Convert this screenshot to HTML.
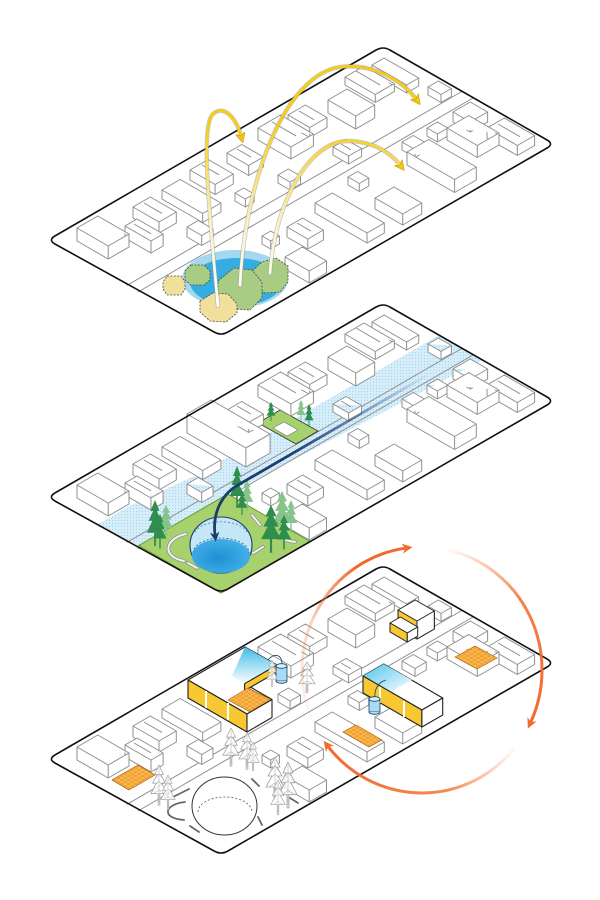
<!DOCTYPE html>
<html><head><meta charset="utf-8"><style>html,body{margin:0;padding:0;background:#fff;width:600px;height:900px;overflow:hidden}svg{display:block}</style></head><body>
<svg xmlns="http://www.w3.org/2000/svg" width="600" height="900" viewBox="0 0 600 900">
<defs>
<path id="pf" d="M54.9,236 L376.1,50 Q383,46 389.9,50 L547.1,140 Q554,144 547.1,148 L227.9,332 Q221,336 214.1,332 L54.9,244 Q48,240 54.9,236 Z"/>
<g id="st" stroke="#8f8f8f" stroke-width="1"><line x1="126.8" y1="285.5" x2="461.8" y2="91.5"/><line x1="138" y1="292" x2="473" y2="98"/></g>
<g id="bc" fill="#fff" stroke="#8f8f8f" stroke-width="1" stroke-linejoin="round">
<path d="M372,65 l12.1,-7 l34.6,20 v8 l-12.1,7 l-34.6,-20 z l34.6,20 l12.1,-7 m-12.1,7 v8"/>
<path d="M345,77 l19,-11 l30.3,17.5 v8 l-19,11 l-30.3,-17.5 z l30.3,17.5 l19,-11 m-19,11 v8 M356,71 l24,13.9"/>
<path d="M428,87 l10.4,-6 l13,7.5 v8 l-10.4,6 l-13,-7.5 z l13,7.5 l10.4,-6 m-10.4,6 v8"/>
<path d="M328,100 l19,-11 l27.7,16 v13 l-19,11 l-27.7,-16 z l27.7,16 l19,-11 m-19,11 v13"/>
<path d="M453,112 l17.3,-10 l17.3,10 v10 l-17.3,10 l-17.3,-10 z l17.3,10 l17.3,-10 m-17.3,10 v10"/>
<path d="M288,115 l17.3,-10 l21.7,12.5 v10 l-17.3,10 l-21.7,-12.5 z l21.7,12.5 l17.3,-10 m-17.3,10 v10 M299,111 l15,8.7"/>
<path d="M427,128 l10.4,-6 l10.4,6 v8 l-10.4,6 l-10.4,-6 z l10.4,6 l10.4,-6 m-10.4,6 v8"/>
<path d="M487,128 l17.3,-10 l30.3,17.5 v10 l-17.3,10 l-30.3,-17.5 z l30.3,17.5 l17.3,-10 m-17.3,10 v10 M498,124 l22,12.7"/>
<path d="M402,142 l11.3,-6.5 l13,7.5 v8 l-11.3,6.5 l-13,-7.5 z l13,7.5 l11.3,-6.5 m-11.3,6.5 v8"/>
<path d="M447,128 l21.7,-12.5 l30.3,17.5 v12 l-21.7,12.5 l-30.3,-17.5 z l30.3,17.5 l21.7,-12.5 m-21.7,12.5 v12"/>
<path d="M258,128 l22.5,-13 l32.9,19 v12 l-22.5,13 l-32.9,-19 z l32.9,19 l22.5,-13 m-22.5,13 v12 M272,122 l24,13.9"/>
<path d="M333,147 l13,-7.5 l15.6,9 v8 l-13,7.5 l-15.6,-9 z l15.6,9 l13,-7.5 m-13,7.5 v8 M341,144 l10,5.8"/>
<path d="M348,177 l9.5,-5.5 l11.3,6.5 v8 l-9.5,5.5 l-11.3,-6.5 z l11.3,6.5 l9.5,-5.5 m-9.5,5.5 v8"/>
<path d="M162,190 l18.2,-10.5 l40.7,23.5 v9 l-18.2,10.5 l-40.7,-23.5 z l40.7,23.5 l18.2,-10.5 m-18.2,10.5 v9"/>
<path d="M375,198 l19,-11 l27.7,16 v11 l-19,11 l-27.7,-16 z l27.7,16 l19,-11 m-19,11 v11"/>
<path d="M133,207 l17.3,-10 l26,15 v11 l-17.3,10 l-26,-15 z l26,15 l17.3,-10 m-17.3,10 v11 M144,203 l18,10.4"/>
<path d="M315,203 l17.3,-10 l52,30 v10 l-17.3,10 l-52,-30 z l52,30 l17.3,-10 m-17.3,10 v10"/>
<path d="M187,227 l11.3,-6.5 l14.7,8.5 v10 l-11.3,6.5 l-14.7,-8.5 z l14.7,8.5 l11.3,-6.5 m-11.3,6.5 v10"/>
<path d="M262,236 l8.7,-5 l8.7,5 v8 l-8.7,5 l-8.7,-5 z l8.7,5 l8.7,-5 m-8.7,5 v8"/>
<path d="M287,227 l15.6,-9 l20.8,12 v10 l-15.6,9 l-20.8,-12 z l20.8,12 l15.6,-9 m-15.6,9 v10 M297,223 l14,8.1"/>
<path d="M125,226 l12.1,-7 l26,15 v12 l-12.1,7 l-26,-15 z l26,15 l12.1,-7 m-12.1,7 v12 M134,224 l17,9.8"/>
<path d="M77,228 l20.8,-12 l31.2,18 v13 l-20.8,12 l-31.2,-18 z l31.2,18 l20.8,-12 m-20.8,12 v13"/>
<path d="M285,257 l17.3,-10 l24.2,14 v12 l-17.3,10 l-24.2,-14 z l24.2,14 l17.3,-10 m-17.3,10 v12"/>
</g>
<path id="bB6" d="M190,170 l18.2,-10.5 l25.1,14.5 v10 l-18.2,10.5 l-25.1,-14.5 z l25.1,14.5 l18.2,-10.5 m-18.2,10.5 v10 M202,165 l17,9.8"/>
<path id="bB7" d="M227,153 l14.7,-8.5 l21.7,12.5 v10 l-14.7,8.5 l-21.7,-12.5 z l21.7,12.5 l14.7,-8.5 m-14.7,8.5 v10 M237,149 l14,8.1"/>
<path id="bB8" d="M235,193 l8.7,-5 l10.4,6 v8 l-8.7,5 l-10.4,-6 z l10.4,6 l8.7,-5 m-8.7,5 v8"/>
<path id="bS4" d="M278,175 l10.4,-6 l12.1,7 v8 l-10.4,6 l-12.1,-7 z l12.1,7 l10.4,-6 m-10.4,6 v8"/>
<path id="bS10" d="M407,152 l21.7,-12.5 l47.6,27.5 v13 l-21.7,12.5 l-47.6,-27.5 z l47.6,27.5 l21.7,-12.5 m-21.7,12.5 v13"/>
<path id="bM1" d="M187,157 l24.2,-14 l58.9,34 v19 l-24.2,14 l-58.9,-34 z l58.9,34 l24.2,-14 m-24.2,14 v19"/>

<linearGradient id="gY" gradientUnits="userSpaceOnUse" x1="0" y1="300" x2="0" y2="125"><stop offset="0" stop-color="#ffffff"/><stop offset=".45" stop-color="#fbf1c0"/><stop offset="1" stop-color="#f6cd12"/></linearGradient>
<linearGradient id="gN" gradientUnits="userSpaceOnUse" x1="431" y1="373" x2="290" y2="455"><stop offset="0" stop-color="#1c3d6e" stop-opacity="0"/><stop offset="1" stop-color="#1c3d6e" stop-opacity="1"/></linearGradient>
<linearGradient id="gOA" gradientUnits="userSpaceOnUse" x1="313" y1="722" x2="405" y2="548"><stop offset="0" stop-color="#f26b2c" stop-opacity="0.04"/><stop offset=".45" stop-color="#f26b2c" stop-opacity=".3"/><stop offset=".8" stop-color="#f26b2c" stop-opacity="1"/><stop offset="1" stop-color="#f26b2c"/></linearGradient>
<linearGradient id="gOB" gradientUnits="userSpaceOnUse" x1="449" y1="550" x2="531" y2="722"><stop offset="0" stop-color="#f26b2c" stop-opacity="0.04"/><stop offset=".4" stop-color="#f26b2c" stop-opacity=".85"/><stop offset="1" stop-color="#f26b2c"/></linearGradient>
<linearGradient id="gOC" gradientUnits="userSpaceOnUse" x1="514" y1="749" x2="328" y2="747"><stop offset="0" stop-color="#f26b2c" stop-opacity="0.04"/><stop offset=".35" stop-color="#f26b2c" stop-opacity=".8"/><stop offset="1" stop-color="#f26b2c"/></linearGradient>
<linearGradient id="gRoof" x1="0" y1="0" x2="0" y2="1"><stop offset="0" stop-color="#3fbde9"/><stop offset="1" stop-color="#ffffff"/></linearGradient>
<linearGradient id="gRoof2" x1="0" y1="0" x2="1" y2="1"><stop offset="0" stop-color="#4cc3ec"/><stop offset="1" stop-color="#ffffff"/></linearGradient>
<radialGradient id="gW" cx=".45" cy=".55" r=".6"><stop offset="0" stop-color="#1f8fd6"/><stop offset="1" stop-color="#45b2e8"/></radialGradient>
<pattern id="pD" width="3" height="3" patternUnits="userSpaceOnUse"><rect width="3" height="3" fill="#d7eefa"/><circle cx="1.5" cy="1.5" r=".6" fill="#a3d4f0"/></pattern>
<pattern id="pS" width="4" height="4" patternUnits="userSpaceOnUse" patternTransform="matrix(.866,-.5,.866,.5,0,0)"><rect width="4" height="4" fill="#f2a12a"/><path d="M0,0 H4 M0,0 V4" stroke="#fde3a8" stroke-width=".7"/></pattern>
<marker id="my" viewBox="0 0 10 10" refX="3" refY="5" markerWidth="3.6" markerHeight="3.6" orient="auto"><path d="M0,0 L10,5 L0,10 L3,5 Z" fill="#f5c518" stroke="#c99a00" stroke-width=".6"/></marker>
<marker id="mo" viewBox="0 0 10 10" refX="3" refY="5" markerWidth="3.4" markerHeight="3.4" orient="auto"><path d="M0,0 L10,5 L0,10 L3,5 Z" fill="#f26b2c"/></marker>
<marker id="mn" viewBox="0 0 10 10" refX="3" refY="5" markerWidth="3.4" markerHeight="3.4" orient="auto"><path d="M0,0 L10,5 L0,10 L3,5 Z" fill="#1c3d6e"/></marker>
<symbol id="tr" viewBox="0 0 20 44" preserveAspectRatio="none"><path d="M10,0 L5,10 L8,10 L3,19 L7,19 L1,30 L9,30 L9,42 L11,42 L11,30 L19,30 L13,19 L17,19 L12,10 L15,10 Z"/></symbol>
<symbol id="gt" viewBox="0 0 20 44" preserveAspectRatio="none"><path d="M10,0 L5,10 L8,10 L3,19 L7,19 L1,30 L9,30 L9,42 L11,42 L11,30 L19,30 L13,19 L17,19 L12,10 L15,10 Z" fill="#fff" fill-opacity=".75" stroke="#a0a0a0" stroke-width=".8"/><path d="M10,3 V40 M10,9 L7,13 M10,9 L13,13 M10,17 L5,22 M10,17 L15,22 M10,26 L4,30 M10,26 L16,30" stroke="#b0b0b0" stroke-width=".6" fill="none"/></symbol>
</defs>
<rect width="600" height="900" fill="#fff"/>

<!-- ============ TOP ============ -->
<use href="#pf" fill="#fff"/>
<use href="#st"/>
<use href="#bc"/>
<g fill="#fff" stroke="#8f8f8f" stroke-width="1" stroke-linejoin="round">
<use href="#bB7"/><use href="#bS10"/><use href="#bS4"/><use href="#bB6"/><use href="#bB8"/>
</g>
<ellipse cx="235" cy="279" rx="53" ry="29" fill="#a3d8f0"/>
<ellipse cx="236" cy="282" rx="46" ry="24" fill="#35ade2"/>
<g stroke="#4a4a3a" stroke-width=".8" stroke-dasharray="2,1.4" stroke-linejoin="round">
<polygon points="191,265 204,265 210,271 210,280 204,285 191,285 185,280 185,271" fill="#a9cc85"/>
<polygon points="167,276 181,276 185,282 185,289 181,295 167,295 163,289 163,282" fill="#f1df9c"/>
<polygon points="250,273 262,262 276,258 288,266 288,282 280,292 265,293 252,285" fill="#a9cc85"/>
<polygon points="218,281 234,268 252,270 262,282 262,298 250,310 234,309 218,296" fill="#a9cc85"/>
<polygon points="200,301 213,293 228,294 237,304 237,313 226,322 210,321 200,312" fill="#f1df9c"/>
</g>
<use href="#pf" fill="none" stroke="#111" stroke-width="1.6"/>
<g fill="none" stroke-linecap="round">
<path d="M218,306 C210,220 200,125 213,114 C224,104 236,118 241,136" stroke="#9a9a9a" stroke-opacity=".55" stroke-width="4.4"/>
<path d="M240,285 C245,180 285,75 340,67 C372,63 402,80 416,99" stroke="#9a9a9a" stroke-opacity=".55" stroke-width="4.4"/>
<path d="M270,273 C275,200 310,142 347,141 C372,141 390,152 400,165" stroke="#9a9a9a" stroke-opacity=".55" stroke-width="4.4"/>
<path d="M218,306 C210,220 200,125 213,114 C224,104 236,118 241,136" stroke="url(#gY)" stroke-width="2.8" marker-end="url(#my)"/>
<path d="M240,285 C245,180 285,75 340,67 C372,63 402,80 416,99" stroke="url(#gY)" stroke-width="2.8" marker-end="url(#my)"/>
<path d="M270,273 C275,200 310,142 347,141 C372,141 390,152 400,165" stroke="url(#gY)" stroke-width="2.8" marker-end="url(#my)"/>
</g>

<!-- ============ MIDDLE ============ -->
<use href="#pf" y="257" fill="#fff"/>
<polygon points="96.5,525 138.7,545.5 227.9,494 481.8,360.5 438.5,335.5 198.7,474 131.1,505" fill="url(#pD)"/>
<use href="#st" y="257"/>
<polygon points="138.7,545.5 227.9,494 310.2,541.5 221,593" fill="#a6d16c" stroke="#5f9a2e" stroke-width="1"/>
<polygon points="258,423 280,410 318,431 296,444" fill="#a6d16c" stroke="#333" stroke-width=".8"/>
<polygon points="273,428 284,422 298,430 287,436" fill="#fff" stroke="#777" stroke-width=".6"/>
<use href="#bc" y="257"/>
<g fill="#fff" stroke="#8f8f8f" stroke-width="1" stroke-linejoin="round" transform="translate(0,257)">
<use href="#bB7"/><use href="#bS10"/><use href="#bM1"/>
</g>
<g fill="none" stroke-linecap="round">
<path d="M186,534 C166,538 160,556 184,561" stroke="#8a8a8a" stroke-width="3.4"/>
<path d="M186,534 C166,538 160,556 184,561" stroke="#f2f2f2" stroke-width="2"/>
<path d="M188,563 L197,568 M252,515 L260,525 M253,553 L263,547 M285,540 L295,542" stroke="#8a8a8a" stroke-width="3.4"/>
<path d="M188,563 L197,568 M252,515 L260,525 M253,553 L263,547 M285,540 L295,542" stroke="#f2f2f2" stroke-width="2"/>
</g>
<ellipse cx="221" cy="545" rx="31" ry="28" fill="#c4e6f7" stroke="#1d3f66" stroke-width="1.1"/>
<ellipse cx="221" cy="556" rx="29" ry="17" fill="url(#gW)"/>
<path d="M195,532 A27,14 0 0 1 247,532" fill="none" stroke="#4a7fa8" stroke-width=".8" stroke-dasharray="2,2"/>
<path d="M193,553 A28,15 0 0 1 249,553" fill="none" stroke="#1d5f96" stroke-width=".8" stroke-dasharray="2,2"/>
<g>
<use href="#tr" x="158" y="505" width="16" height="34" fill="#86c48c"/>
<use href="#tr" x="146" y="500" width="18" height="48" fill="#2f8d4e"/>
<use href="#tr" x="153" y="514" width="14" height="36" fill="#2f8d4e"/>
<use href="#tr" x="240" y="480" width="14" height="32" fill="#86c48c"/>
<use href="#tr" x="229" y="466" width="16" height="44" fill="#2f8d4e"/>
<use href="#tr" x="236" y="490" width="12" height="26" fill="#2f8d4e"/>
<use href="#tr" x="272" y="491" width="20" height="46" fill="#86c48c"/>
<use href="#tr" x="284" y="500" width="14" height="34" fill="#86c48c"/>
<use href="#tr" x="260" y="505" width="22" height="50" fill="#2f8d4e"/>
<use href="#tr" x="276" y="515" width="16" height="36" fill="#2f8d4e"/>
<use href="#tr" x="296" y="400" width="10" height="22" fill="#86c48c"/>
<use href="#tr" x="266" y="402" width="10" height="20" fill="#2f8d4e"/>
<use href="#tr" x="304" y="404" width="10" height="24" fill="#2f8d4e"/>
</g>
<path d="M431,373 L238,485 C224,493 212,510 215,535" fill="none" stroke="url(#gN)" stroke-width="2.8" marker-end="url(#mn)"/>
<use href="#pf" y="257" fill="none" stroke="#111" stroke-width="1.6"/>

<!-- ============ BOTTOM ============ -->
<use href="#pf" y="519" fill="#fff"/>
<use href="#st" y="519"/>
<use href="#bc" y="519"/>
<g fill="#fff" stroke="#8f8f8f" stroke-width="1" stroke-linejoin="round" transform="translate(0,519)">
<use href="#bS4"/>
</g>
<g stroke="#222" stroke-width="1.1" stroke-linejoin="round">
<polygon points="188,680 245,647 277,665 244.6,683.7 272,699.5 247,714" fill="#fff"/>
<polygon points="245,647 277,665 244.6,683.7 232,676" fill="url(#gRoof)" stroke="none"/>
<polygon points="244.6,683.7 277,665 277,672 244.6,690.7" fill="#f7c832"/>
<polygon points="228,700 248,688 272,700 252,713" fill="url(#pS)" stroke="#a85a10" stroke-width=".7"/>
<polygon points="188,680 247,714 247,732 188,698" fill="#f7c832"/>
<polygon points="247,714 272,699.5 272,717.5 247,732" fill="#fff"/>
</g>
<g stroke="#fff" stroke-width="2"><line x1="206" y1="691" x2="206" y2="708"/><line x1="228" y1="703" x2="228" y2="720"/></g>
<g stroke="#1d3f66" stroke-width=".8"><path d="M268,660 C275,652 282,655 282,664" fill="none"/><rect x="276" y="666" width="11" height="15" fill="#a8dcf3"/><ellipse cx="281.5" cy="666" rx="5.5" ry="2.3" fill="#d6f0fb"/><path d="M276,681 A5.5,2.3 0 0 0 287,681" fill="#a8dcf3"/></g>
<g stroke="#222" stroke-width="1.1" stroke-linejoin="round">
<polygon points="363,676 383.8,664 442.7,698 421.9,710" fill="#fff"/>
<polygon points="363,676 383.8,664 412,680 390,692" fill="url(#gRoof2)" stroke="none"/>
<polygon points="363,676 421.9,710 421.9,727 363,693" fill="#f7c832"/>
<polygon points="421.9,710 442.7,698 442.7,715 421.9,727" fill="#fff"/>
</g>
<g stroke="#fff" stroke-width="2"><line x1="380" y1="687" x2="380" y2="703"/><line x1="404" y1="701" x2="404" y2="717"/></g>
<g stroke="#1d3f66" stroke-width=".8"><path d="M386,680 C378,682 374,690 375,698" fill="none"/><rect x="369" y="699" width="11" height="13" fill="#a8dcf3"/><ellipse cx="374.5" cy="699" rx="5.5" ry="2.3" fill="#d6f0fb"/><path d="M369,712 A5.5,2.3 0 0 0 380,712" fill="#a8dcf3"/></g>
<g stroke="#222" stroke-width="1" stroke-linejoin="round">
<path d="M398,610 l17.3,-10 l19,11 v18 l-17.3,10 l-19,-11 z" fill="#fff"/>
<polygon points="398,610 417,621 417,639 398,628" fill="#f7c832"/>
<polygon points="417,621 434.3,611 434.3,629 417,639" fill="#fff"/>
<polygon points="390,623 400.4,617 417.7,627 407.3,633" fill="#fff"/>
<polygon points="390,623 407.3,633 407.3,642 390,632" fill="#f7c832"/>
<polygon points="407.3,633 417.7,627 417.7,636 407.3,642" fill="#fff"/>
</g>
<g stroke="#a85a10" stroke-width=".7">
<polygon points="455,657 475,646 497,658 477,669" fill="url(#pS)"/>
<polygon points="343,732 356,725 382,740 369,747" fill="url(#pS)"/>
<polygon points="112,780 138,765 155,775 129,790" fill="url(#pS)"/>
</g>
<ellipse cx="224.5" cy="806" rx="32.5" ry="29" fill="#fff" stroke="#333" stroke-width="1"/>
<path d="M198,812 A27,15 0 0 1 252,812" fill="none" stroke="#555" stroke-width=".8" stroke-dasharray="2,2"/>
<g fill="none" stroke="#666" stroke-width="1.8" stroke-linecap="round">
<path d="M185,802 C165,804 160,818 184,820"/>
<path d="M173,797 L189,789 M190,826 L199,832 M258,817 L262,825 M290,798 L298,803 M252,779 L259,786"/>
</g>
<g>
<use href="#gt" x="266" y="660" width="12" height="28"/>
<use href="#gt" x="298" y="662" width="18" height="32"/>
<use href="#gt" x="222" y="728" width="18" height="40"/>
<use href="#gt" x="238" y="733" width="18" height="38"/>
<use href="#gt" x="246" y="742" width="14" height="30"/>
<use href="#gt" x="150" y="765" width="18" height="42"/>
<use href="#gt" x="160" y="775" width="16" height="36"/>
<use href="#gt" x="265" y="757" width="20" height="44"/>
<use href="#gt" x="278" y="762" width="20" height="48"/>
<use href="#gt" x="270" y="780" width="16" height="36"/>
</g>
<use href="#pf" y="519" fill="none" stroke="#111" stroke-width="1.6"/>
<g fill="none" stroke-width="3" stroke-linecap="round">
<path d="M313.2,722 A120,123 0 0 1 405.3,548.2" stroke="url(#gOA)" marker-end="url(#mo)"/>
<path d="M449,550.2 A120,123 0 0 1 530.8,722" stroke="url(#gOB)" marker-end="url(#mo)"/>
<path d="M513.9,749 A120,123 0 0 1 328.1,746.6" stroke="url(#gOC)" marker-end="url(#mo)"/>
</g>
</svg>
</body></html>
